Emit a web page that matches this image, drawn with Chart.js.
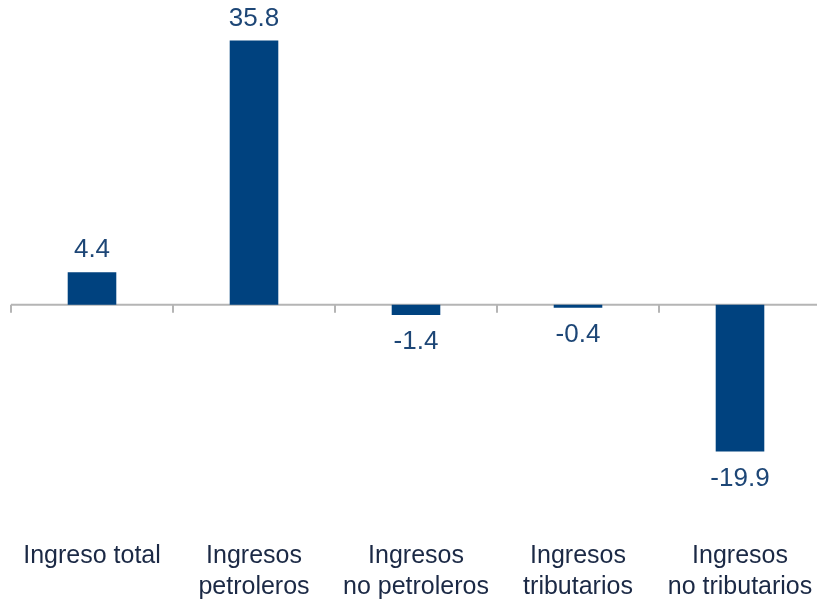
<!DOCTYPE html>
<html lang="es">
<head>
    <meta charset="UTF-8">
    <title>Ingresos - variación</title>
    <script src="https://cdn.jsdelivr.net/npm/chart.js"></script>
    <style>
        html, body {
            margin: 0;
            padding: 0;
            background: #fff;
            overflow: hidden;
        }
        canvas {
            display: block;
        }
    </style>
</head>
<body>
    <canvas id="grafico" width="825" height="600"></canvas>

    <script>
        // datos
        const categorias = [
            ["Ingreso total"],
            ["Ingresos", "petroleros"],
            ["Ingresos", "no petroleros"],
            ["Ingresos", "tributarios"],
            ["Ingresos", "no tributarios"]
        ];
        const valores = [4.4, 35.8, -1.4, -0.4, -19.9];

        const colorBarra = "#00427f";
        const colorValor = "#1d4676";
        const colorTexto = "#1b2945";
        const colorEje = "#b5b5b5";
        const fuente = "'Liberation Sans', Arial, sans-serif";

        // línea del cero con marcas entre categorías
        const ejeCero = {
            id: "ejeCero",
            beforeDatasetsDraw(chart) {
                const { ctx, chartArea, scales } = chart;
                const y0 = scales.y.getPixelForValue(0);
                ctx.save();
                ctx.strokeStyle = colorEje;
                ctx.lineWidth = 2;
                ctx.beginPath();
                ctx.moveTo(chartArea.left, y0);
                ctx.lineTo(chartArea.right, y0);
                for (let i = 0; i <= categorias.length; i++) {
                    const x = Math.round(scales.x.getPixelForValue(i - 0.5));
                    ctx.moveTo(x, y0);
                    ctx.lineTo(x, y0 + 8);
                }
                ctx.stroke();
                ctx.restore();
            }
        };

        // etiquetas de valor encima / debajo de cada barra
        const etiquetasValor = {
            id: "etiquetasValor",
            afterDatasetsDraw(chart) {
                const ctx = chart.ctx;
                const meta = chart.getDatasetMeta(0);
                ctx.save();
                ctx.font = "26px " + fuente;
                ctx.fillStyle = colorValor;
                ctx.textAlign = "center";
                ctx.textBaseline = "middle";
                meta.data.forEach((bar, i) => {
                    const v = valores[i];
                    const y = v >= 0 ? bar.y - 22 : bar.y + 27;
                    ctx.fillText(v.toFixed(1), bar.x, y);
                });
                ctx.restore();
            }
        };

        const ctx = document.getElementById("grafico").getContext("2d");
        new Chart(ctx, {
            type: "bar",
            data: {
                labels: categorias,
                datasets: [{
                    data: valores,
                    backgroundColor: colorBarra,
                    categoryPercentage: 1,
                    barPercentage: 0.3
                }]
            },
            options: {
                responsive: false,
                animation: false,
                layout: {
                    padding: { left: 11, right: 4, top: 0, bottom: -6 }
                },
                plugins: {
                    legend: { display: false },
                    tooltip: { enabled: false }
                },
                scales: {
                    y: {
                        display: false,
                        min: -30.4,
                        max: 41.3
                    },
                    x: {
                        offset: true,
                        grid: { display: false },
                        border: { display: false },
                        ticks: {
                            padding: 4,
                            maxRotation: 0,
                            autoSkip: false,
                            color: colorTexto,
                            font: { family: fuente, size: 25, lineHeight: 1.22 }
                        }
                    }
                }
            },
            plugins: [ejeCero, etiquetasValor]
        });
    </script>
</body>
</html>
